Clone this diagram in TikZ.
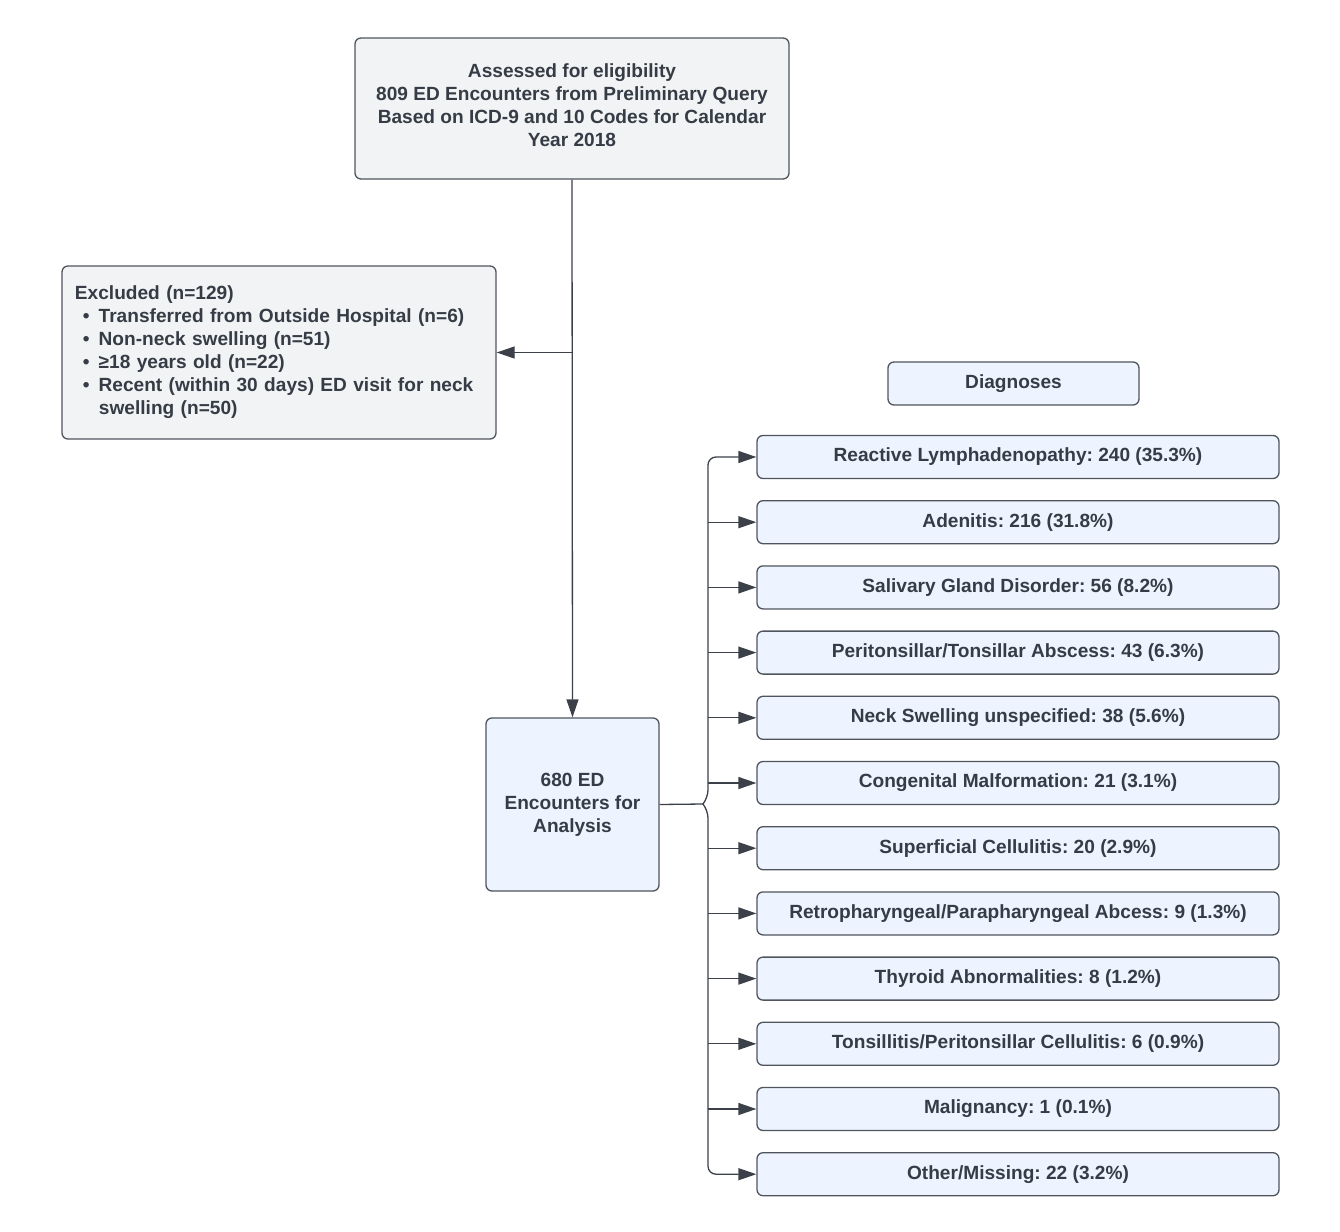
\documentclass[tikz,border=0pt]{standalone}
\usepackage{fontspec}
\setmainfont{Liberation Sans}
\usetikzlibrary{arrows.meta}
\newdimen\pxu \pxu=0.5pt
\definecolor{txt}{HTML}{363C45}
\definecolor{bordc}{HTML}{50555D}
\definecolor{linec}{HTML}{3C4149}
\definecolor{grayf}{HTML}{F2F3F5}
\definecolor{bluef}{HTML}{EDF4FF}
\frenchspacing
\begin{document}
\begin{tikzpicture}[x=0.5pt,y=-0.5pt,
  box/.style={draw=bordc, line width=0.65pt, rounded corners=3pt, inner sep=0pt,
    font=\fontsize{9.55}{11.5}\selectfont\bfseries\frenchspacing, text=txt, align=center},
  graybox/.style={box, fill=grayf},
  bluebox/.style={box, fill=bluef},
  conn/.style={draw=linec, line width=0.65pt},
  arr/.style={conn, -{Triangle[length=9pt,width=6pt]}},
  ]
\useasboundingbox (0,0) rectangle (1340,1232);

\node[graybox, minimum width=434\pxu, minimum height=141\pxu] (top) at (572,108.5)
  {\parbox{430\pxu}{\centering Assessed for eligibility\\809 ED Encounters from Preliminary Query\\Based on ICD-9 and 10 Codes for Calendar\\Year 2018\par\vspace*{7\pxu}}};

\node[graybox, minimum width=434\pxu, minimum height=173\pxu, text width=408\pxu,
  inner xsep=13\pxu, align=left] (excl) at (279,352.5)
  {Excluded (n=129)\\
   \hspace*{8\pxu}•\hspace{9\pxu}Transferred from Outside Hospital (n=6)\\
   \hspace*{8\pxu}•\hspace{9\pxu}Non-neck swelling (n=51)\\
   \hspace*{8\pxu}•\hspace{9\pxu}≥18 years old (n=22)\\
   \hspace*{8\pxu}•\hspace{9\pxu}Recent (within 30 days) ED visit for neck\\
   \hspace*{24\pxu}swelling (n=50)};

\node[bluebox, minimum width=173\pxu, minimum height=173\pxu] (ana) at (572.5,804.5)
  {680 ED\\Encounters for\\Analysis};

\node[bluebox, minimum width=251\pxu, minimum height=43\pxu] (hdr) at (1013.5,383.5) {Diagnoses};

\foreach \t [count=\i from 0] in {
  Reactive Lymphadenopathy: 240 (35.3\%),
  Adenitis: 216 (31.8\%),
  Salivary Gland Disorder: 56 (8.2\%),
  Peritonsillar/Tonsillar Abscess: 43 (6.3\%),
  Neck Swelling unspecified: 38 (5.6\%),
  Congenital Malformation: 21 (3.1\%),
  Superficial Cellulitis: 20 (2.9\%),
  Retropharyngeal/Parapharyngeal Abcess: 9 (1.3\%),
  Thyroid Abnormalities: 8 (1.2\%),
  Tonsillitis/Peritonsillar Cellulitis: 6 (0.9\%),
  Malignancy: 1 (0.1\%),
  Other/Missing: 22 (3.2\%)}
{
  \node[bluebox, minimum width=522\pxu, minimum height=43\pxu] (d\i) at (1018,{457+65.2*\i}) {\t};
}

\coordinate (j1) at (top.south |- excl.east);
\coordinate (hub) at (703,804);
\coordinate (sp) at (708,804);

\draw[arr] (top.south) -- (ana.north);
\draw[arr] (j1) -- (excl.east);
\draw[conn] (ana.east) -- (hub);
% brace spine with rounded ends
\draw[arr, rounded corners=4pt] (hub) -- (708,798) |- (d0.west);
\draw[arr, rounded corners=4pt] (hub) -- (708,810) |- (d11.west);
\foreach \i in {1,...,10} {
  \draw[arr] (sp |- d\i.west) -- (d\i.west);
}
\end{tikzpicture}
\end{document}
